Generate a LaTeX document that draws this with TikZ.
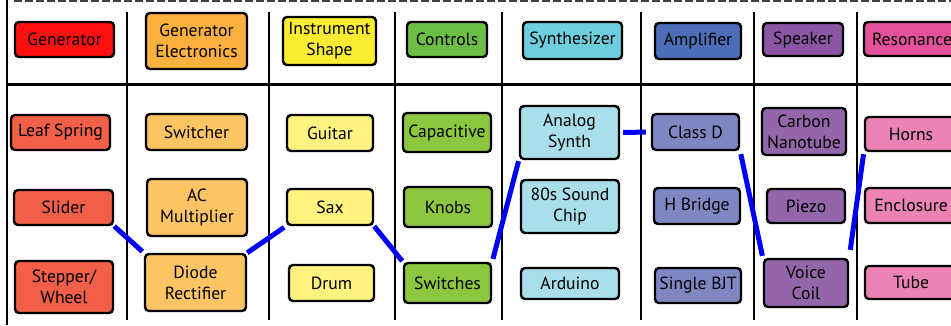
\documentclass[tikz,border=0pt]{standalone}
\usepackage{fontspec}
\setmainfont{PT Sans}
\definecolor{hRed}{HTML}{FF1010}
\definecolor{hOrange}{HTML}{FBB040}
\definecolor{hYellow}{HTML}{F9EC31}
\definecolor{hGreen}{HTML}{6DBE45}
\definecolor{hCyan}{HTML}{6DCFDD}
\definecolor{hBlue}{HTML}{4C6EB6}
\definecolor{hPurple}{HTML}{8A56A4}
\definecolor{hPink}{HTML}{E3519B}
\definecolor{bRed}{HTML}{F15F48}
\definecolor{bOrange}{HTML}{FDC463}
\definecolor{bYellow}{HTML}{FFF37F}
\definecolor{bGreen}{HTML}{8DC63F}
\definecolor{bCyan}{HTML}{A8DFEB}
\definecolor{bBlue}{HTML}{7F87C3}
\definecolor{bPurple}{HTML}{9366AA}
\definecolor{bPink}{HTML}{EB83B5}
\definecolor{linkblue}{HTML}{0000FF}
\tikzset{
  cell/.style={draw=black, line width=2.4pt, rounded corners=4pt, inner sep=0pt,
    align=center, font=\fontsize{17.6}{21}\selectfont},
  rule/.style={draw=black, line width=2pt},
  link/.style={draw=linkblue, line width=5pt},
}
% place a box by its centre and size (all in pt, y downward)
\newcommand\cellat[6]{\node[cell, fill=#5, minimum width=#3pt, minimum height=#4pt] (#1) at (#2) {#6};}
\begin{document}
\begin{tikzpicture}[x=1pt, y=-1pt]
\useasboundingbox (0,0) rectangle (951,325);
\fill[white] (0,0) rectangle (951,325);
% frame and column rules
\draw[draw=black!75, line width=2.4pt, dash pattern=on 8pt off 3pt] (14,0.6) -- (951,0.6);
\draw[rule, line width=2.6pt] (7,0) -- (7,325);
\draw[rule, line width=2.6pt] (7,84.5) -- (951,84.5);
\foreach \cx in {127,269,395,502,641,754,857}
  \draw[rule] (\cx,12) -- (\cx,320);
% header row
\cellat{gen}{64.5,39.5}{99}{35}{hRed}{Generator}
\cellat{genel}{196.5,41}{101}{56}{hOrange}{Generator\\Electronics}
\cellat{inst}{329.5,41}{93}{48}{hYellow}{Instrument\\Shape}
\cellat{ctrl}{447,39.5}{80}{35}{hGreen}{Controls}
\cellat{synth}{572.5,40.5}{99}{37}{hCyan}{Synthesizer}
\cellat{amp}{698,41}{86}{36}{hBlue}{Amplifier}
\cellat{spk}{803,39.5}{80}{33}{hPurple}{Speaker}
\cellat{res}{912,39}{96}{34}{hPink}{Resonance}
% generator
\cellat{leaf}{60.5,132.5}{99}{35}{bRed}{Leaf Spring}
\cellat{slider}{63.5,207.5}{99}{35}{bRed}{Slider}
\cellat{stepper}{64,287}{98}{52}{bRed}{Stepper/\\Wheel}
% generator electronics
\cellat{switcher}{196.5,132}{101}{36}{bOrange}{Switcher}
\cellat{acmult}{197,207.5}{100}{57}{bOrange}{AC\\Multiplier}
\cellat{diode}{195.5,282.5}{101}{57}{bOrange}{Diode\\Rectifier}
% instrument shape
\cellat{guitar}{330,133}{86}{36}{bYellow}{Guitar}
\cellat{sax}{330,207}{86}{36}{bYellow}{Sax}
\cellat{drum}{331.5,283}{85}{36}{bYellow}{Drum}
% controls
\cellat{capac}{447,132.5}{88}{39}{bGreen}{Capacitive}
\cellat{knobs}{448,207}{88}{40}{bGreen}{Knobs}
\cellat{switches}{447.5,283}{87}{40}{bGreen}{Switches}
% synthesizer
\cellat{analog}{569.5,132.5}{99}{53}{bCyan}{Analog\\Synth}
\cellat{chip}{570,206.5}{98}{53}{bCyan}{80s Sound\\Chip}
\cellat{arduino}{570,283.5}{98}{31}{bCyan}{Arduino}
% amplifier
\cellat{classd}{695.5,132}{87}{36}{bBlue}{Class D}
\cellat{hbridge}{697,206}{86}{36}{bBlue}{H Bridge}
\cellat{bjt}{698,285.5}{86}{35}{bBlue}{Single BJT}
% speaker
\cellat{carbon}{804,131.5}{84}{47}{bPurple}{Carbon\\Nanotube}
\cellat{piezo}{806,206}{78}{34}{bPurple}{Piezo}
\cellat{voice}{806,283}{84}{48}{bPurple}{Voice\\Coil}
% resonance
\cellat{horns}{911,134}{92}{34}{bPink}{Horns}
\cellat{encl}{911,205.5}{92}{35}{bPink}{Enclosure}
\cellat{tube}{911,282.5}{92}{33}{bPink}{Tube}
% chosen path through the options
\draw[link, shorten >=2pt] (slider.south east) -- (diode.north west);
\draw[link, shorten >=2pt] (diode.north east) -- (sax.south west);
\draw[link, shorten >=1pt] (sax.south east) -- (switches.north west);
\draw[link, shorten <=3pt, shorten >=1pt] (switches.north east) -- (analog.south west);
\draw[link, shorten <=3pt, shorten >=5pt] (analog.east) -- (classd.west);
\draw[link, shorten <=3pt, shorten >=2pt] (classd.south east) -- (voice.north west);
\draw[link, shorten <=8pt, shorten >=2pt] (voice.north east) -- (horns.south west);
\end{tikzpicture}
\end{document}
